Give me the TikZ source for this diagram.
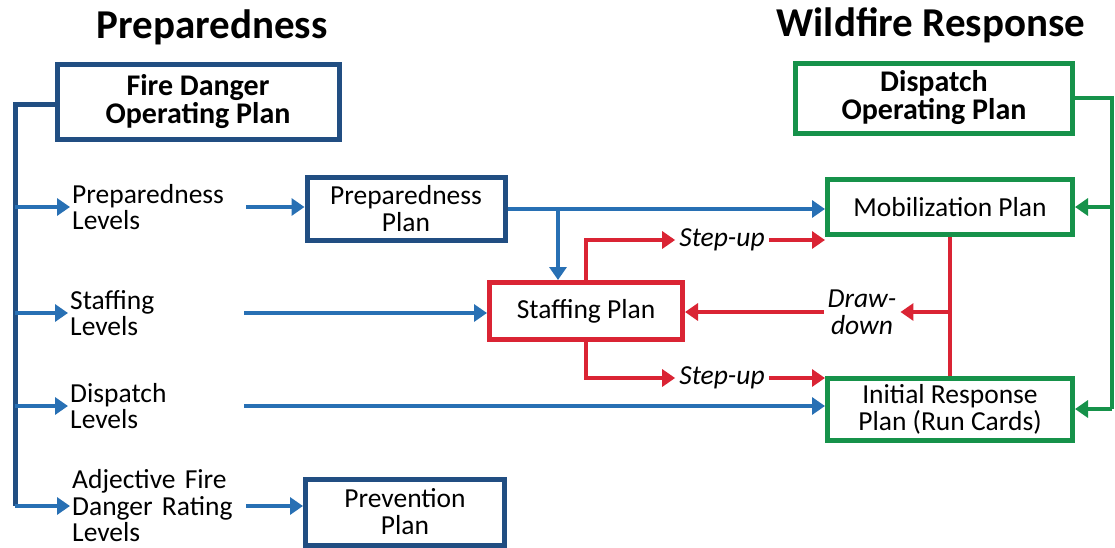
\documentclass[tikz,border=0pt]{standalone}
\usepackage{fontspec}
\setmainfont{Carlito}
\usetikzlibrary{arrows.meta}
\definecolor{navy}{RGB}{33,78,130}
\definecolor{lblue}{RGB}{40,112,180}
\definecolor{fred}{RGB}{218,36,52}
\definecolor{fgreen}{RGB}{22,146,74}

\begin{document}
\begin{tikzpicture}[x=1pt,y=-1pt]
\tikzstyle{plan}=[rectangle,draw,line width=5pt,fill=white,align=center,inner sep=2pt,font=\fontsize{27.5}{27}\selectfont]
\tikzstyle{bplan}=[plan,font=\fontsize{30}{28}\selectfont\bfseries]
\tikzstyle{lvl}=[anchor=west,align=left,text width=172pt,inner sep=2pt,font=\fontsize{27.5}{26.5}\selectfont]
\tikzstyle{stepup}=[align=center,inner sep=4pt,font=\fontsize{27.5}{27}\selectfont\itshape]
\tikzstyle{head}=[font=\fontsize{41}{41}\selectfont\bfseries]
\tikzstyle{tip}=[-{Triangle[width=17pt,length=13pt]}]
\tikzstyle{barrow}=[lblue,line width=4.5pt,tip]
\tikzstyle{rarrow}=[fred,line width=4.5pt,tip]
\tikzstyle{garrow}=[fgreen,line width=4.5pt,tip]
\useasboundingbox (0,0) rectangle (1115,547);
\fill[white] (0,0) rectangle (1115,547);
\clip (0,0) rectangle (1115,547);
% titles
\node[head] (tp) at (212,27) {Preparedness};
\node[head] (tw) at (931,25) {Wildfire Response};
% plans
\node[bplan,draw=navy,minimum width=282pt,minimum height=75pt] (fdop) at (198,102) {Fire Danger\\Operating Plan};
\node[bplan,draw=fgreen,minimum width=277pt,minimum height=70pt] (dop) at (934,98) {Dispatch\\Operating Plan};
\node[plan,draw=navy,minimum width=198pt,minimum height=63pt] (pplan) at (406,209) {Preparedness\\Plan};
\node[plan,draw=fred,minimum width=193pt,minimum height=57pt] (staff) at (586,311) {Staffing Plan};
\node[plan,draw=fgreen,minimum width=245pt,minimum height=55pt] (mob) at (950,207) {Mobilization Plan};
\node[plan,draw=fgreen,minimum width=245pt,minimum height=62pt] (irp) at (950,409) {Initial Response\\Plan (Run Cards)};
\node[plan,draw=navy,minimum width=199pt,minimum height=66pt] (prev) at (405,512) {Prevention\\Plan};
% levels
\node[lvl] (plev) at (70,207) {Preparedness\\Levels};
\node[lvl] (slev) at (68,313) {Staffing\\Levels};
\node[lvl] (dlev) at (68,406) {Dispatch\\Levels};
\node[lvl] (alev) at (70,506) {Adjective Fire\\Danger Rating\\Levels};
% step-up / draw-down
\node[stepup] (su1) at (722,240) {Step-up};
\node[stepup] (su2) at (722,378) {Step-up};
\node[stepup] (dd) at (862,312) {Draw-\\down};
\coordinate (tr) at (15,104);
\coordinate (pj) at (558,209);
\coordinate (gr) at (1112,98);
% preparedness side
\draw[navy,line width=5pt] (fdop.west |- tr) -- (tr) -- (tr |- alev.west);
\foreach \n in {plev,slev,dlev,alev}
\draw[barrow] (tr |- \n.west) -- (\n.west);
\draw[barrow] (plev.east) -- (plev.east -| pplan.west);
\draw[barrow] (slev.east) -- (slev.east -| staff.west);
\draw[barrow] (dlev.east) -- (dlev.east -| irp.west);
\draw[barrow] (alev.east) -- (alev.east -| prev.west);
\draw[barrow] (pplan.east) -- (pplan.east -| mob.west);
\draw[barrow] (pj) -- (pj |- staff.north);
% staffing
\draw[rarrow] (staff.north) |- (su1.west);
\draw[rarrow] (staff.south) |- (su2.west);
\draw[rarrow] (su1.east) -- (su1.east -| mob.west);
\draw[rarrow] (su2.east) -- (su2.east -| irp.west);
\draw[fred,line width=4.5pt] (mob.south) -- (irp.north);
\draw[rarrow] (mob.south |- dd.east) -- (dd.east);
\draw[rarrow] (dd.west) -- (dd.west -| staff.east);
% wildfire response side
\draw[fgreen,line width=4.5pt] (dop.east) -- (gr) -- (gr |- irp.east);
\draw[garrow] (gr |- mob.east) -- (mob.east);
\draw[garrow] (gr |- irp.east) -- (irp.east);
\end{tikzpicture}
\end{document}
